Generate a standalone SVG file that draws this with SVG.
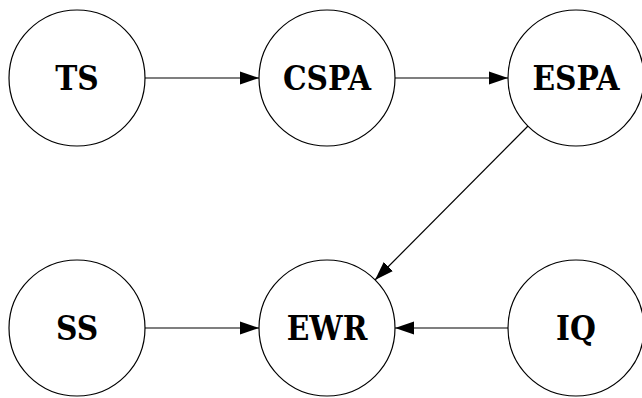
<svg xmlns="http://www.w3.org/2000/svg" width="642" height="398" viewBox="0 0 642 398">
  <style>
    .node circle { fill: #ffffff; stroke: #000000; stroke-width: 1.2; }
    .node text { font-family: "DejaVu Serif", "Liberation Serif", serif; font-stretch: condensed; font-weight: bold; font-size: 33px; text-anchor: middle; fill: #000000; }
    .edge { stroke: #000000; stroke-width: 1.2; fill: none; marker-end: url(#arrow); }
  </style>
  <defs>
    <marker id="arrow" markerUnits="userSpaceOnUse" markerWidth="20" markerHeight="14" refX="19" refY="7" orient="auto">
      <path d="M0,0.5 L19,7 L0,13.5 Z" fill="#000000"/>
    </marker>
  </defs>
  <rect width="642" height="398" fill="#ffffff"/>

  <g id="edges">
    <line class="edge" x1="145" y1="78" x2="259" y2="78"/>
    <line class="edge" x1="395" y1="78" x2="508" y2="78"/>
    <line class="edge" x1="528" y1="126" x2="375" y2="280"/>
    <line class="edge" x1="145" y1="328" x2="259" y2="328"/>
    <line class="edge" x1="508" y1="328" x2="395" y2="328"/>
  </g>

  <g id="TS" class="node">
    <circle cx="77" cy="78" r="68"/>
    <text x="77" y="90">TS</text>
  </g>
  <g id="CSPA" class="node">
    <circle cx="327" cy="78" r="68"/>
    <text x="327" y="90">CSPA</text>
  </g>
  <g id="ESPA" class="node">
    <circle cx="576" cy="78" r="68"/>
    <text x="576" y="90">ESPA</text>
  </g>
  <g id="SS" class="node">
    <circle cx="77" cy="328" r="68"/>
    <text x="77" y="340">SS</text>
  </g>
  <g id="EWR" class="node">
    <circle cx="327" cy="328" r="68"/>
    <text x="327" y="340">EWR</text>
  </g>
  <g id="IQ" class="node">
    <circle cx="576" cy="328" r="68"/>
    <text x="576" y="340">IQ</text>
  </g>
</svg>
